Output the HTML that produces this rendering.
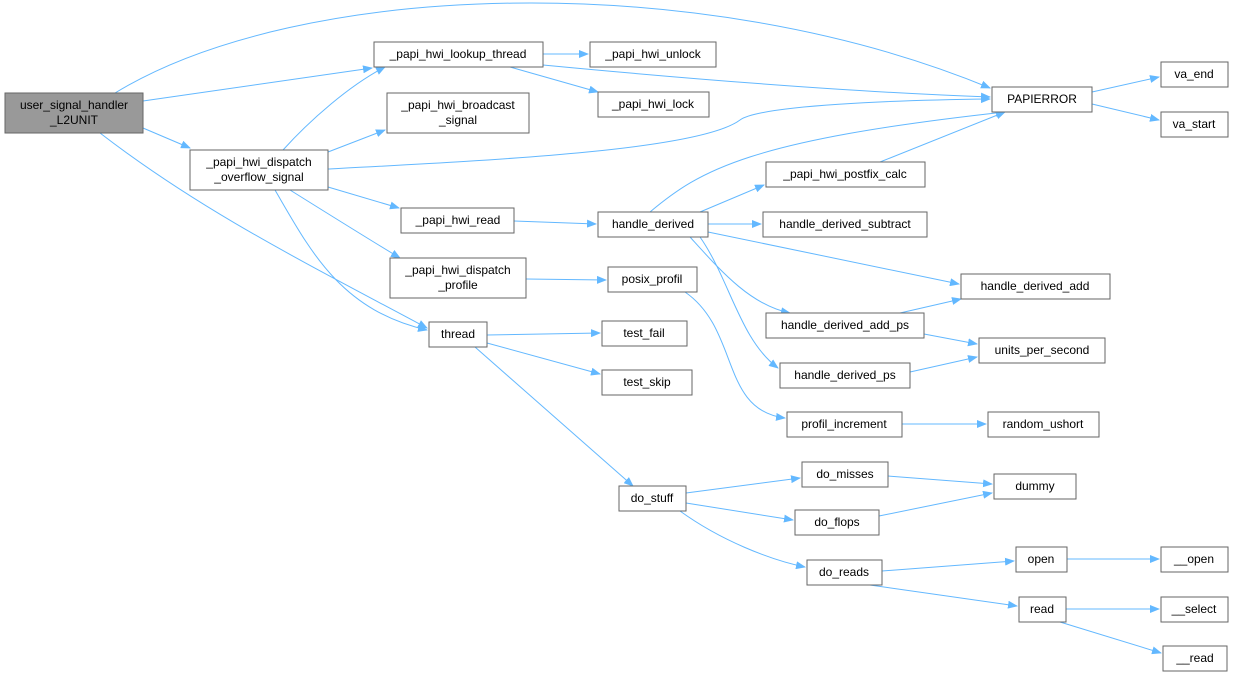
<!DOCTYPE html>
<html><head><meta charset="utf-8"><style>
html,body{margin:0;padding:0;background:#fff;}
svg{display:block;}
text{font-family:"Liberation Sans",sans-serif;font-size:12px;fill:#000;}
.n{fill:#fff;stroke:#666;stroke-width:1;}
.e{fill:none;stroke:#63b8ff;stroke-width:1;marker-end:url(#a);}
</style></head><body>
<svg width="1235" height="677" viewBox="0 0 1235 677" xmlns="http://www.w3.org/2000/svg">
<defs><marker id="a" markerWidth="10" markerHeight="8" refX="9" refY="4" orient="auto" markerUnits="userSpaceOnUse"><path d="M0,0 L10,4 L0,8 z" fill="#63b8ff"/></marker></defs>
<g>
<path class="e" d="M115,93 C300,-20 700,-32 990,88"/>
<path class="e" d="M143,101 L372,68"/>
<path class="e" d="M143,128 L190,148"/>
<path class="e" d="M100,133 C200,210 300,260 427,328"/>
<path class="e" d="M543,54 L588,54"/>
<path class="e" d="M510,67 L598,92"/>
<path class="e" d="M543,65 C700,80 850,92 990,97"/>
<path class="e" d="M283,150 C310,120 350,85 385,67"/>
<path class="e" d="M328,152 L385,130"/>
<path class="e" d="M328,169 C500,160 700,150 740,120 C760,105 900,100 990,99"/>
<path class="e" d="M328,187 L399,208"/>
<path class="e" d="M290,190 C330,215 370,240 400,258"/>
<path class="e" d="M275,190 C310,250 340,310 427,330"/>
<path class="e" d="M514,221 L596,224"/>
<path class="e" d="M650,212 C700,170 750,140 1005,112"/>
<path class="e" d="M700,212 L764,185"/>
<path class="e" d="M880,162 L1005,112"/>
<path class="e" d="M708,224 L761,224"/>
<path class="e" d="M708,232 L959,284"/>
<path class="e" d="M690,237 C720,270 750,305 790,313"/>
<path class="e" d="M700,237 C730,280 740,340 778,368"/>
<path class="e" d="M900,313 L961,299"/>
<path class="e" d="M924,334 L977,344"/>
<path class="e" d="M910,372 L977,357"/>
<path class="e" d="M526,279 L606,280"/>
<path class="e" d="M685,292 C740,330 720,410 785,418"/>
<path class="e" d="M902,424 L986,424"/>
<path class="e" d="M487,335 L600,333"/>
<path class="e" d="M487,343 L600,374"/>
<path class="e" d="M475,347 L633,486"/>
<path class="e" d="M686,493 L800,478"/>
<path class="e" d="M686,503 L793,520"/>
<path class="e" d="M680,511 C720,540 770,560 805,567"/>
<path class="e" d="M888,476 L992,484"/>
<path class="e" d="M879,516 L992,493"/>
<path class="e" d="M882,571 L1014,561"/>
<path class="e" d="M870,585 L1017,606"/>
<path class="e" d="M1067,559 L1159,559"/>
<path class="e" d="M1066,609 L1159,609"/>
<path class="e" d="M1060,622 L1161,653"/>
<path class="e" d="M1092,92 L1159,77"/>
<path class="e" d="M1092,104 L1159,120"/>
</g>
<g>
<rect x="5" y="93" width="138" height="40" fill="#999" stroke="#666"/>
<text x="74" y="109" text-anchor="middle">user_signal_handler</text><text x="74" y="124" text-anchor="middle">_L2UNIT</text>
<rect class="n" x="374" y="42" width="169" height="25"/><text x="458" y="58" text-anchor="middle">_papi_hwi_lookup_thread</text>
<rect class="n" x="590" y="42" width="126" height="25"/><text x="653" y="58" text-anchor="middle">_papi_hwi_unlock</text>
<rect class="n" x="598" y="92" width="111" height="25"/><text x="653" y="108" text-anchor="middle">_papi_hwi_lock</text>
<rect class="n" x="387" y="93" width="142" height="40"/><text x="458" y="109" text-anchor="middle">_papi_hwi_broadcast</text><text x="458" y="124" text-anchor="middle">_signal</text>
<rect class="n" x="190" y="150" width="138" height="40"/><text x="259" y="166" text-anchor="middle">_papi_hwi_dispatch</text><text x="259" y="181" text-anchor="middle">_overflow_signal</text>
<rect class="n" x="992" y="87" width="100" height="25"/><text x="1042" y="103" text-anchor="middle">PAPIERROR</text>
<rect class="n" x="1161" y="62" width="67" height="25"/><text x="1194" y="78" text-anchor="middle">va_end</text>
<rect class="n" x="1161" y="112" width="67" height="25"/><text x="1194" y="128" text-anchor="middle">va_start</text>
<rect class="n" x="766" y="162" width="159" height="25"/><text x="845" y="178" text-anchor="middle">_papi_hwi_postfix_calc</text>
<rect class="n" x="598" y="212" width="110" height="25"/><text x="653" y="228" text-anchor="middle">handle_derived</text>
<rect class="n" x="763" y="212" width="164" height="25"/><text x="845" y="228" text-anchor="middle">handle_derived_subtract</text>
<rect class="n" x="401" y="208" width="113" height="25"/><text x="458" y="224" text-anchor="middle">_papi_hwi_read</text>
<rect class="n" x="390" y="258" width="136" height="40"/><text x="458" y="274" text-anchor="middle">_papi_hwi_dispatch</text><text x="458" y="289" text-anchor="middle">_profile</text>
<rect class="n" x="608" y="267" width="89" height="25"/><text x="652" y="283" text-anchor="middle">posix_profil</text>
<rect class="n" x="961" y="274" width="149" height="25"/><text x="1035" y="290" text-anchor="middle">handle_derived_add</text>
<rect class="n" x="766" y="313" width="158" height="25"/><text x="845" y="329" text-anchor="middle">handle_derived_add_ps</text>
<rect class="n" x="979" y="338" width="126" height="25"/><text x="1042" y="354" text-anchor="middle">units_per_second</text>
<rect class="n" x="429" y="322" width="58" height="25"/><text x="458" y="338" text-anchor="middle">thread</text>
<rect class="n" x="602" y="321" width="85" height="25"/><text x="644" y="337" text-anchor="middle">test_fail</text>
<rect class="n" x="602" y="370" width="90" height="25"/><text x="647" y="386" text-anchor="middle">test_skip</text>
<rect class="n" x="780" y="363" width="130" height="25"/><text x="845" y="379" text-anchor="middle">handle_derived_ps</text>
<rect class="n" x="787" y="412" width="115" height="25"/><text x="844" y="428" text-anchor="middle">profil_increment</text>
<rect class="n" x="988" y="412" width="111" height="25"/><text x="1043" y="428" text-anchor="middle">random_ushort</text>
<rect class="n" x="619" y="486" width="67" height="25"/><text x="652" y="502" text-anchor="middle">do_stuff</text>
<rect class="n" x="802" y="462" width="86" height="25"/><text x="845" y="478" text-anchor="middle">do_misses</text>
<rect class="n" x="994" y="474" width="82" height="25"/><text x="1035" y="490" text-anchor="middle">dummy</text>
<rect class="n" x="795" y="510" width="84" height="25"/><text x="837" y="526" text-anchor="middle">do_flops</text>
<rect class="n" x="807" y="560" width="75" height="25"/><text x="844" y="576" text-anchor="middle">do_reads</text>
<rect class="n" x="1016" y="547" width="51" height="25"/><text x="1041" y="563" text-anchor="middle">open</text>
<rect class="n" x="1161" y="547" width="67" height="25"/><text x="1194" y="563" text-anchor="middle">__open</text>
<rect class="n" x="1019" y="597" width="47" height="25"/><text x="1042" y="613" text-anchor="middle">read</text>
<rect class="n" x="1161" y="597" width="67" height="25"/><text x="1194" y="613" text-anchor="middle">__select</text>
<rect class="n" x="1163" y="646" width="64" height="25"/><text x="1195" y="662" text-anchor="middle">__read</text>
</g>
</svg>
</body></html>
